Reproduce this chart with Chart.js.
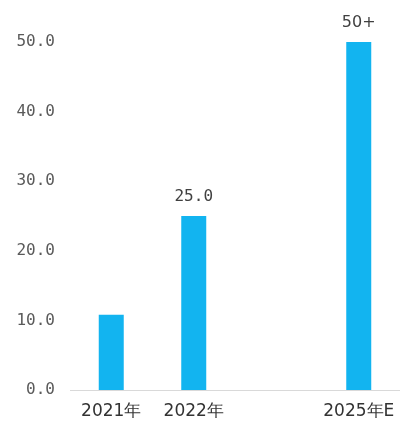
<!DOCTYPE html>
<html>
<head>
<meta charset="utf-8">
<script src="https://cdn.jsdelivr.net/npm/chart.js@4.4.0/dist/chart.umd.min.js"></script>
<style>
html,body{margin:0;padding:0;background:#fff;}
#wrap{width:400px;height:424px;}
</style>
</head>
<body>
<div id="wrap"><canvas id="c" width="400" height="424"></canvas></div>
<script>
const categories = ["2021年", "2022年", "", "2025年E"];
const values = [10.8, 25.0, null, 50];
const valueLabels = ["", "25.0", "", "50+"];
const yTicks = [0, 10, 20, 30, 40, 50];

const labelPlugin = {
  id: 'valueLabels',
  afterDatasetsDraw(chart) {
    const ctx = chart.ctx;
    const meta = chart.getDatasetMeta(0);
    ctx.save();
    ctx.textAlign = 'center';
    ctx.textBaseline = 'bottom';
    meta.data.forEach((bar, i) => {
      const t = valueLabels[i];
      if (!t || values[i] == null) return;
      ctx.fillStyle = '#404040';
      ctx.font = /^[\d.]+$/.test(t) ? '16px "DejaVu Sans Mono"' : '16px "DejaVu Sans"';
      ctx.fillText(t, bar.x, bar.y - 11);
    });
    ctx.restore();
  }
};

new Chart(document.getElementById('c'), {
  type: 'bar',
  data: {
    labels: categories,
    datasets: [{
      data: values,
      backgroundColor: '#12B4F0',
      barPercentage: 0.303,
      categoryPercentage: 1.0
    }]
  },
  options: {
    responsive: false,
    animation: false,
    layout: { padding: { top: 42, left: 0, right: 0, bottom: 0 } },
    plugins: { legend: { display: false }, tooltip: { enabled: false } },
    scales: {
      x: {
        grid: { display: false },
        border: { display: true, color: '#d9d9d9', width: 1 },
        ticks: { color: '#333333', font: { family: 'DejaVu Sans', size: 17 }, padding: 3, maxRotation: 0, autoSkip: false },
        afterFit(scale) { scale.height = 34; }
      },
      y: {
        min: 0, max: 50,
        afterBuildTicks(axis) { axis.ticks = yTicks.map(v => ({ value: v })); },
        grid: { display: false },
        border: { display: false },
        ticks: {
          color: '#5a5a5a',
          font: { family: 'DejaVu Sans Mono', size: 16 },
          padding: 7,
          callback: v => Number(v).toFixed(1)
        },
        afterFit(scale) { scale.width = 70; }
      }
    }
  },
  plugins: [labelPlugin]
});
</script>
</body>
</html>
